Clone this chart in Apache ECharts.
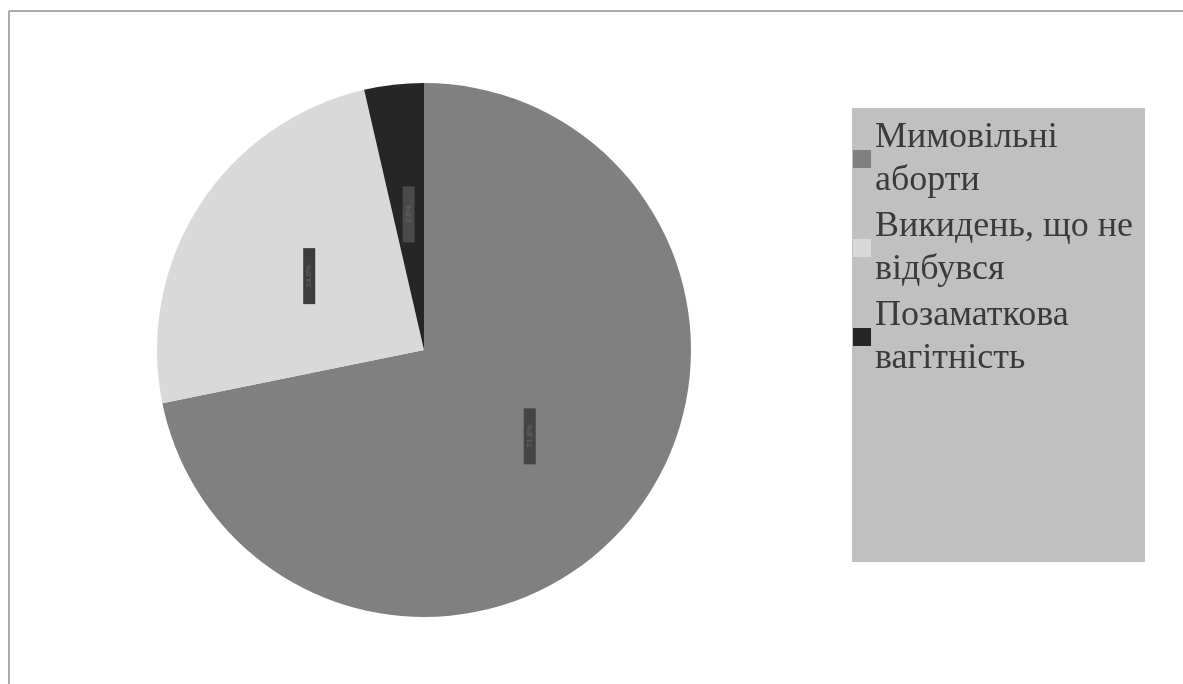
<!DOCTYPE html>
<html>
<head>
<meta charset="utf-8">
<script src="https://cdn.jsdelivr.net/npm/echarts@6/dist/echarts.min.js"></script>
<style>
  html, body { margin: 0; padding: 0; background: #fff; }
  #chart { width: 1183px; height: 684px; }
</style>
</head>
<body>
<div id="chart"></div>
<script>
// категорії та частки (%)
var categories = ['Мимовільні аборти', 'Викидень, що не відбувся', 'Позаматкова вагітність'];
var legendLabels = ['Мимовільні\nаборти', 'Викидень, що не\nвідбувся', 'Позаматкова\nвагітність'];
var values = [71.8, 24.6, 3.6];

var colors = ['#808080', '#d9d9d9', '#262626'];
var labelBg = ['#444444', '#3c3c3c', '#4a4a4a'];

var chart = echarts.init(document.getElementById('chart'));

var pieData = categories.map(function (name, i) {
  return {
    name: name,
    value: values[i],
    itemStyle: { color: colors[i] },
    label: { backgroundColor: labelBg[i] }
  };
});

var option = {
  backgroundColor: '#ffffff',
  animation: false,
  graphic: [
    // рамка області діаграми
    { type: 'line', shape: { x1: 9, y1: 11, x2: 1183, y2: 11 }, style: { stroke: '#ababab', lineWidth: 2 } },
    { type: 'line', shape: { x1: 9, y1: 11, x2: 9, y2: 684 }, style: { stroke: '#ababab', lineWidth: 2 } },
    // фон легенди
    { type: 'rect', z: -1, shape: { x: 852, y: 108, width: 293, height: 454 }, style: { fill: '#c0c0c0' } }
  ],
  legend: {
    orient: 'vertical',
    left: 848,
    top: 111,
    icon: 'rect',
    itemWidth: 18,
    itemHeight: 18,
    itemGap: 3,
    padding: 5,
    formatter: function (name) {
      return legendLabels[categories.indexOf(name)];
    },
    textStyle: {
      fontFamily: '"Liberation Serif", "DejaVu Serif", serif',
      fontSize: 36,
      lineHeight: 43,
      color: '#3a3a3a',
      padding: [0, 0, 0, -1]
    },
    data: categories
  },
  series: [
    {
      type: 'pie',
      center: [424, 350],
      radius: 267,
      startAngle: 90,
      clockwise: true,
      silent: true,
      label: {
        show: true,
        position: 'inside',
        rotate: 90,
        formatter: '{d}%',
        fontSize: 8,
        color: '#6a6a6a',
        width: 48,
        align: 'center',
        padding: [2, 4]
      },
      labelLine: { show: false },
      data: pieData
    }
  ]
};

chart.setOption(option);
</script>
</body>
</html>
